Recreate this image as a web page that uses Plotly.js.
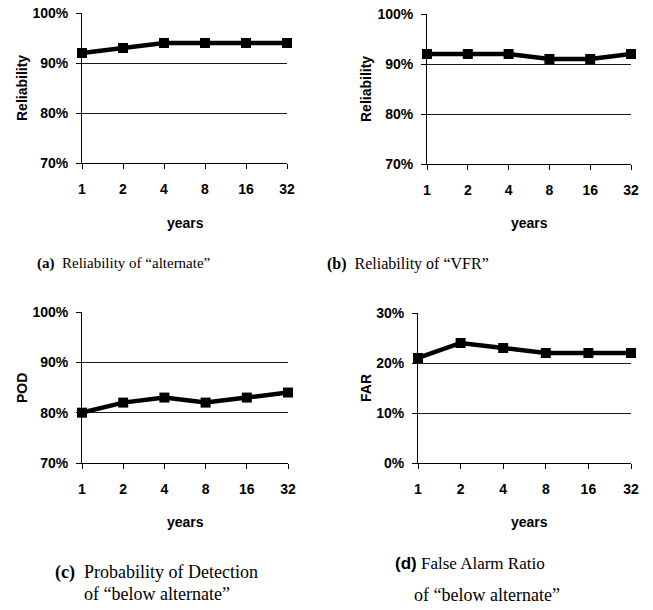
<!DOCTYPE html>
<html>
<head>
<meta charset="utf-8">
<script src="https://cdn.plot.ly/plotly-3.0.1.min.js"></script>
<style>html,body{margin:0;padding:0;background:#fff}#chart{width:653px;height:610px}</style>
</head>
<body>
<div id="chart"></div>
<script>
const years = [1, 2, 4, 8, 16, 32];
const yearLabels = ["1", "2", "4", "8", "16", "32"];
const reliabilityAlternate = [92, 93, 94, 94, 94, 94];
const reliabilityVFR = [92, 92, 92, 91, 91, 92];
const podBelowAlternate = [80, 82, 83, 82, 83, 84];
const farBelowAlternate = [21, 24, 23, 22, 22, 22];

const W = 653, H = 610;
const px = (a, b) => [a / W, b / W];
const py = (top, bottom) => [1 - bottom / H, 1 - top / H];

const tickFont = {family: "Liberation Sans, Arial, sans-serif", size: 14, color: "#000", weight: 700};
const serif = "Liberation Serif, Times New Roman, serif";

function mkTrace(y, xa, ya) {
  return {x: years, y: y, xaxis: xa, yaxis: ya, type: "scatter", mode: "lines+markers",
    line: {color: "#000", width: 4.5}, marker: {symbol: "square", size: 10, color: "#000"},
    cliponaxis: false, hoverinfo: "x+y"};
}
function xAx(dom, anchor) {
  return {domain: dom, anchor: anchor, type: "log", range: [0, Math.log10(32)],
    tickvals: years, ticktext: yearLabels, showgrid: false, showline: true, linecolor: "#000", linewidth: 1,
    ticks: "outside", ticklen: 5, tickcolor: "#000", tickfont: tickFont, ticklabelstandoff: 8, fixedrange: true};
}
function yAx(dom, anchor, r) {
  return {domain: dom, anchor: anchor, range: r, dtick: 10, ticksuffix: "%", showgrid: true,
    gridcolor: "#1a1a1a", gridwidth: 1, zeroline: false, showline: true, linecolor: "#000", linewidth: 1,
    ticks: "outside", ticklen: 5, tickcolor: "#000", tickfont: tickFont, ticklabelstandoff: 5, fixedrange: true};
}

const data = [
  mkTrace(reliabilityAlternate, "x", "y"),
  mkTrace(reliabilityVFR, "x2", "y2"),
  mkTrace(podBelowAlternate, "x3", "y3"),
  mkTrace(farBelowAlternate, "x4", "y4")
];

function ann(text, x, y, opts) {
  return Object.assign({text: text, x: x / W, y: 1 - y / H, xref: "paper", yref: "paper",
    showarrow: false, font: tickFont, xanchor: "center", yanchor: "middle"}, opts || {});
}
const cap = s => ({family: serif, size: s, color: "#000"});

const layout = {
  width: W, height: H, margin: {l: 0, r: 0, t: 0, b: 0}, showlegend: false,
  paper_bgcolor: "#fff", plot_bgcolor: "#fff",
  xaxis: xAx(px(82, 287), "y"),
  yaxis: yAx(py(13, 163), "x", [70, 100]),
  xaxis2: xAx(px(427, 631), "y2"),
  yaxis2: yAx(py(14, 164), "x2", [70, 100]),
  xaxis3: xAx(px(82, 288), "y3"),
  yaxis3: yAx(py(312, 463), "x3", [70, 100]),
  xaxis4: xAx(px(418, 631), "y4"),
  yaxis4: yAx(py(313, 463), "x4", [0, 30]),
  annotations: [
    ann("years", 185, 223),
    ann("years", 529, 223),
    ann("years", 185, 522),
    ann("years", 529, 522),
    ann("Reliability", 22, 88, {textangle: -90}),
    ann("Reliability", 366, 89, {textangle: -90}),
    ann("POD", 22, 388, {textangle: -90}),
    ann("FAR", 366, 388, {textangle: -90}),
    ann("<b>(a)</b>  Reliability of “alternate”", 35, 264, {xanchor: "left", font: cap(15)}),
    ann("<b>(b)</b>  Reliability of “VFR”", 325, 264, {xanchor: "left", font: cap(16)}),
    ann("<b>(c)</b>  Probability of Detection", 53, 572, {xanchor: "left", font: cap(18)}),
    ann("of “below alternate”", 82, 594, {xanchor: "left", font: cap(18)}),
    ann("<b style='font-family:Liberation Sans'>(d)</b> False Alarm Ratio", 393, 563, {xanchor: "left", font: cap(17)}),
    ann("of “below alternate”", 412, 595, {xanchor: "left", font: cap(18)})
  ]
};

Plotly.newPlot("chart", data, layout, {displayModeBar: false, staticPlot: true});
</script>
</body>
</html>
